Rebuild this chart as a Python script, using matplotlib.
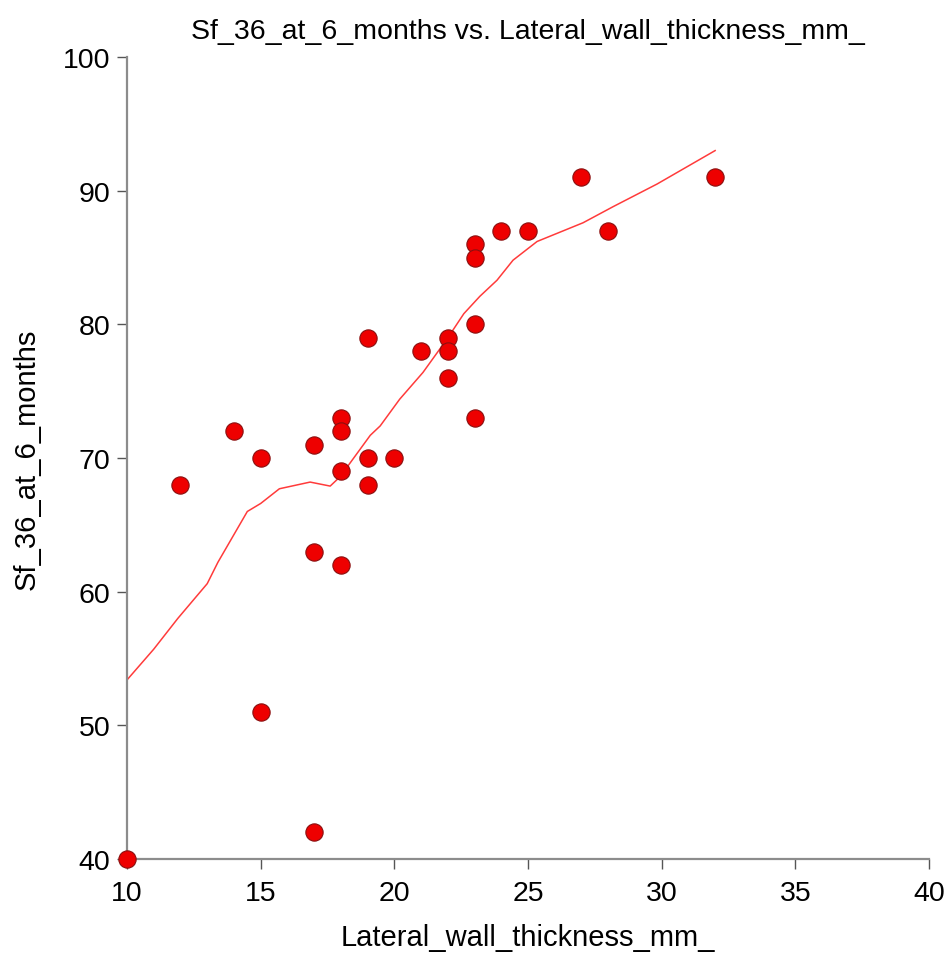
import matplotlib
matplotlib.use("Agg")
import matplotlib.pyplot as plt

plt.rcParams['font.family'] = ['Liberation Sans', 'DejaVu Sans']

# Observed data
wall_mm = [10, 12, 14, 15, 15, 17, 17, 17, 18, 18, 18, 18, 19, 19, 19, 20,
           21, 22, 22, 22, 23, 23, 23, 23, 24, 25, 27, 28, 32]
sf36 = [40, 68, 72, 70, 51, 71, 63, 42, 73, 72, 69, 62, 79, 70, 68, 70,
        78, 79, 78, 76, 86, 85, 80, 73, 87, 87, 91, 87, 91]

# Smoothed trend
trend_x = [10.0, 11.0, 11.9, 13.0, 13.4, 14.5, 15.0, 15.7, 16.85, 17.6, 17.97,
           19.1, 19.47, 20.2, 21.07, 21.97, 22.6, 23.2, 23.84, 24.44, 25.34,
           27.06, 28.18, 29.83, 32.0]
trend_y = [53.4, 55.7, 58.0, 60.6, 62.2, 66.0, 66.6, 67.7, 68.2, 67.9, 68.6,
           71.7, 72.4, 74.4, 76.4, 78.9, 80.8, 82.1, 83.3, 84.8, 86.2,
           87.6, 88.8, 90.5, 93.0]

fig = plt.figure(figsize=(9.5, 9.54), dpi=100)
ax = fig.add_axes([0.1337, 0.0985, 0.8442, 0.8407])

ax.plot(trend_x, trend_y, color='#ff3b3b', lw=1.1, zorder=2)
ax.scatter(wall_mm, sf36, s=155, color='#ee0000', edgecolors='#8a1010',
           linewidths=0.8, zorder=3, clip_on=False)

ax.set_xlim(10, 40)
ax.set_ylim(40, 100)
ax.set_xticks([10, 15, 20, 25, 30, 35, 40])
ax.set_yticks([40, 50, 60, 70, 80, 90, 100])

for side in ('top', 'right'):
    ax.spines[side].set_visible(False)
for side in ('left', 'bottom'):
    ax.spines[side].set_color('#8c8c8c')
    ax.spines[side].set_linewidth(1.6)
ax.tick_params(direction='out', length=7, width=1, color='#555555',
               labelsize=20.5)
ax.tick_params(axis='x', pad=8)
ax.tick_params(axis='y', pad=5)

ax.set_title('Sf_36_at_6_months vs. Lateral_wall_thickness_mm_',
             fontsize=20.5, pad=14)
ax.set_xlabel('Lateral_wall_thickness_mm_', fontsize=21)
ax.set_ylabel('Sf_36_at_6_months', fontsize=21)
ax.xaxis.set_label_coords(0.5, -0.080)
ax.yaxis.set_label_coords(-0.108, 0.5)

fig.savefig('out.png', dpi=100)
